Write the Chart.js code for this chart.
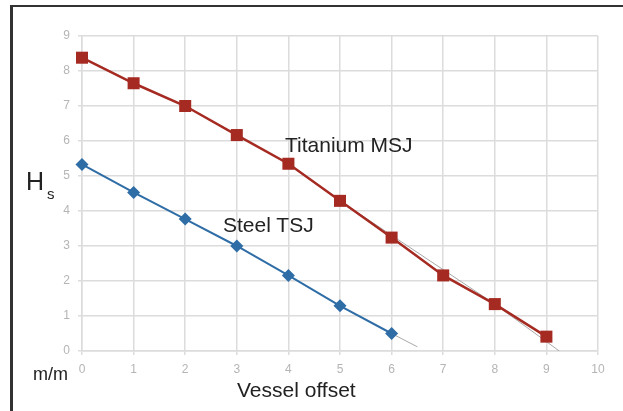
<!DOCTYPE html>
<html>
<head>
<meta charset="utf-8">
<script src="https://cdn.jsdelivr.net/npm/chart.js@4"></script>
<style>
  html, body { margin: 0; padding: 0; background: #fff; }
  #wrap { position: relative; width: 623px; height: 411px; overflow: hidden; font-family: "Liberation Sans", Arial, sans-serif; color: #222; }
  #frame { position: absolute; left: 10px; top: 5px; width: 700px; height: 500px; border-left: 3px solid #333; border-top: 2px solid #333; }
  canvas { position: absolute; left: 0; top: 0; }
  .lbl { position: absolute; line-height: 1; white-space: nowrap; }
</style>
</head>
<body>
<div id="wrap">
  <div id="frame"></div>
  <canvas id="hsChart" width="623" height="411"></canvas>
  <div class="lbl" style="left:26px; top:169px; font-size:25px;">H</div>
  <div class="lbl" style="left:47px; top:186px; font-size:15px;">s</div>
  <div class="lbl" style="left:33px; top:365px; font-size:18px;">m/m</div>
  <div class="lbl" style="left:237px; top:379px; font-size:21px;">Vessel offset</div>
  <div class="lbl" style="left:285px; top:134px; font-size:21px;">Titanium MSJ</div>
  <div class="lbl" style="left:223px; top:214px; font-size:21px;">Steel TSJ</div>
</div>
<script>
    // values
    const offsets = [0, 1, 2, 3, 4, 5, 6, 7, 8, 9];
    const titaniumMSJ = [8.38, 7.65, 7.0, 6.17, 5.35, 4.29, 3.24, 2.16, 1.34, 0.41];
    const steelTSJ = [5.33, 4.53, 3.77, 3.0, 2.16, 1.29, 0.5];
    const steelTrendX = [6, 6.5];
    const steelTrendY = [0.5, 0.12];
    const titaniumTrendX = [5, 8, 9.25];
    const titaniumTrendY = [4.29, 1.34, 0];
    const xTicks = [0, 1, 2, 3, 4, 5, 6, 7, 8, 9, 10];
    const yTicks = [0, 1, 2, 3, 4, 5, 6, 7, 8, 9];

    function toPoints(xs, ys) {
        return ys.map((y, i) => ({ x: xs[i], y: y }));
    }

    const ctx = document.getElementById('hsChart').getContext('2d');
    new Chart(ctx, {
        type: 'line',
        data: {
            datasets: [
                {
                    label: 'Titanium MSJ',
                    data: toPoints(offsets, titaniumMSJ),
                    borderColor: '#a52a22',
                    backgroundColor: '#a52a22',
                    borderWidth: 2.5,
                    pointStyle: 'rect',
                    pointRadius: 8.5,
                    pointBorderWidth: 0,
                    clip: false,
                    order: 1
                },
                {
                    label: 'Steel TSJ',
                    data: toPoints(offsets, steelTSJ),
                    borderColor: '#2f6da6',
                    backgroundColor: '#2f6da6',
                    borderWidth: 2,
                    pointStyle: 'rectRot',
                    pointRadius: 6.5,
                    pointBorderWidth: 0,
                    clip: false,
                    order: 2
                },
                {
                    label: 'Titanium trend',
                    data: toPoints(titaniumTrendX, titaniumTrendY),
                    borderColor: '#a8a8a8',
                    borderWidth: 1,
                    pointRadius: 0,
                    order: 10
                },
                {
                    label: 'Steel trend',
                    data: toPoints(steelTrendX, steelTrendY),
                    borderColor: '#a8a8a8',
                    borderWidth: 1,
                    pointRadius: 0,
                    order: 10
                }
            ]
        },
        options: {
            responsive: false,
            animation: false,
            layout: { padding: { left: 0, right: 25, top: 36, bottom: 0 } },
            plugins: {
                legend: { display: false },
                tooltip: { enabled: false }
            },
            scales: {
                x: {
                    type: 'linear',
                    min: 0,
                    max: 10,
                    afterBuildTicks: (scale) => { scale.ticks = xTicks.map(v => ({ value: v })); },
                    afterFit: (scale) => { scale.height = 60; },
                    grid: { color: '#dcdcdc', lineWidth: 1.5, tickLength: 4 },
                    border: { color: '#dcdcdc', width: 1.5 },
                    ticks: {
                        color: '#b5b5b5',
                        padding: 7,
                        maxRotation: 0,
                        font: { family: 'Liberation Sans', size: 12 }
                    }
                },
                y: {
                    min: 0,
                    max: 9,
                    afterBuildTicks: (scale) => { scale.ticks = yTicks.map(v => ({ value: v })); },
                    afterFit: (scale) => { scale.width = 82; },
                    grid: { color: '#dcdcdc', lineWidth: 1.5, tickLength: 4 },
                    border: { color: '#dcdcdc', width: 1.5 },
                    ticks: {
                        color: '#b5b5b5',
                        padding: 8,
                        font: { family: 'Liberation Sans', size: 12 }
                    }
                }
            }
        }
    });
</script>
</body>
</html>
